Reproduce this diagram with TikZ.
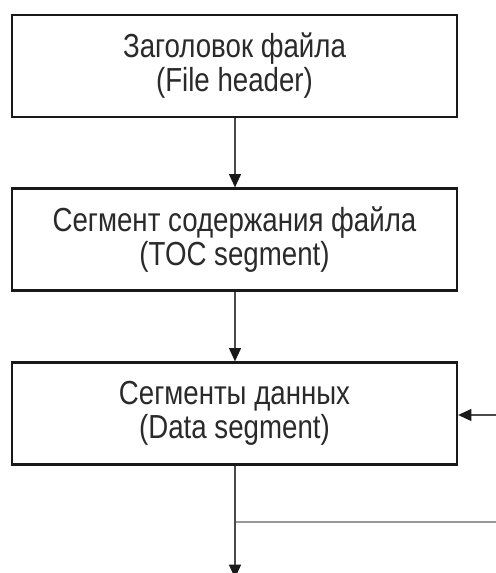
\documentclass[tikz,border=0pt]{standalone}
\usepackage{fontspec}
\setmainfont[FakeStretch=0.83]{Liberation Sans}
\usetikzlibrary{arrows.meta}
\definecolor{txtc}{HTML}{2A2A2A}
\definecolor{linec}{HTML}{4A4A4A}
\definecolor{lightc}{HTML}{999999}
\tikzset{
  blockbox/.style={draw=black!90, line width=1.7pt, fill=white, minimum width=333.75pt, minimum height=76.5pt, inner sep=0pt, align=center, text=txtc, font=\fontsize{25pt}{25.5pt}\selectfont},
  conn/.style={draw=linec, line width=1pt, -{Triangle[length=10pt,width=9pt,color=black!90]}},
  plainline/.style={draw=lightc, line width=1pt}
}
\begin{document}
\begin{tikzpicture}[x=0.75pt,y=-0.75pt]
\useasboundingbox[fill=white] (0,0) rectangle (495,573);
\node[blockbox] (hdr) at (234.5,66) {Заголовок файла\\(File header)};
\node[blockbox] (toc) at (234.5,239.5) {Сегмент содержания файла\\(TOC segment)};
\node[blockbox] (data) at (234.5,413.5) {Сегменты данных\\(Data segment)};
\coordinate (rin) at (497,415);
\coordinate (split) at (235,522);
\coordinate (rout) at (497,522);
\coordinate (bot) at (235,578);
\draw[conn] (hdr.south -| 235,0) -- (toc.north -| 235,0);
\draw[conn] (toc.south -| 235,0) -- (data.north -| 235,0);
\draw[conn] (rin) -- (rin -| data.east);
\draw[plainline] (split) -- (rout);
\draw[conn] (data.south -| 235,0) -- (bot);
\end{tikzpicture}
\end{document}
